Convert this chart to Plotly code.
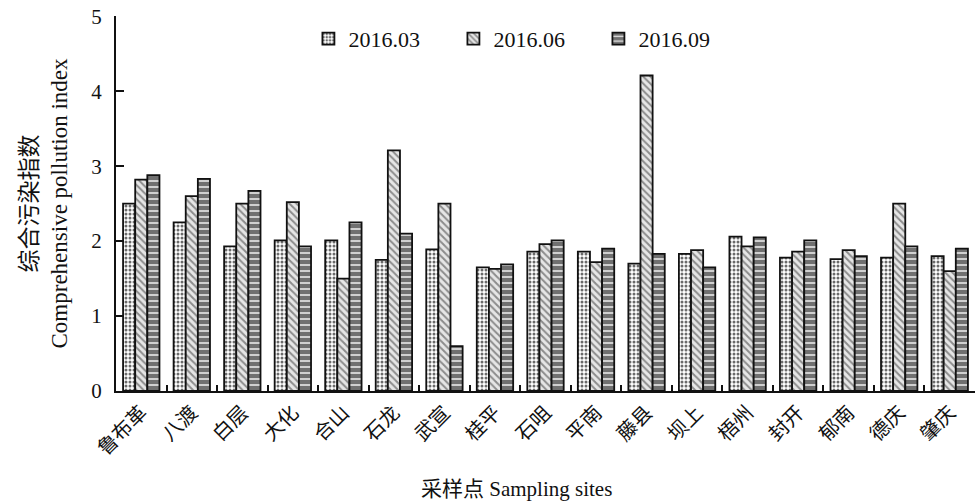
import plotly.graph_objects as go

sites = ["鲁布革", "八渡", "白层", "大化", "合山", "石龙", "武宣", "桂平", "石咀",
         "平南", "藤县", "坝上", "梧州", "封开", "郁南", "德庆", "肇庆"]
series_names = ["2016.03", "2016.06", "2016.09"]
v_2016_03 = [2.50, 2.25, 1.93, 2.01, 2.01, 1.75, 1.89, 1.65, 1.86, 1.86, 1.70, 1.83, 2.06, 1.78, 1.76, 1.78, 1.80]
v_2016_06 = [2.82, 2.60, 2.50, 2.52, 1.50, 3.21, 2.50, 1.63, 1.96, 1.72, 4.21, 1.88, 1.93, 1.86, 1.88, 2.50, 1.60]
v_2016_09 = [2.88, 2.83, 2.67, 1.93, 2.25, 2.10, 0.60, 1.69, 2.01, 1.90, 1.83, 1.65, 2.05, 2.01, 1.80, 1.93, 1.90]
y_ticks = [0, 1, 2, 3, 4, 5]

FONT = "Liberation Serif, Noto Sans CJK SC, serif"

styles = [
    dict(shape=".", bgcolor="#ffffff", fgcolor="#6a6a6a", size=4, solidity=0.45),
    dict(shape="\\", bgcolor="#e6e6e6", fgcolor="#8c8c8c", size=5, solidity=0.4),
    dict(shape="-", bgcolor="#707070", fgcolor="#f0f0f0", size=6, solidity=0.25),
]

fig = go.Figure()
for name, vals, st in zip(series_names, [v_2016_03, v_2016_06, v_2016_09], styles):
    fig.add_trace(go.Bar(
        x=sites, y=vals, name=name,
        marker=dict(color=st["bgcolor"], line=dict(color="#111111", width=1.8),
                    pattern=dict(shape=st["shape"], bgcolor=st["bgcolor"], fgcolor=st["fgcolor"],
                                 size=st["size"], solidity=st["solidity"], fgopacity=1)),
    ))

fig.update_layout(
    width=980, height=501,
    margin=dict(l=116, r=5, t=13, b=110),
    paper_bgcolor="white", plot_bgcolor="white",
    barmode="group", bargap=0.28, bargroupgap=0,
    font=dict(family=FONT, size=20, color="#111111"),
    showlegend=True,
    legend=dict(orientation="h", x=0.224, y=0.995, xanchor="left", yanchor="top",
                entrywidth=100, font=dict(size=22), bgcolor="rgba(0,0,0,0)"),
    xaxis=dict(showline=True, linecolor="#111111", linewidth=2, ticks="inside",
               tickson="boundaries", ticklen=6, tickwidth=2, tickcolor="#111111",
               tickangle=-45, tickfont=dict(size=20), showgrid=False, range=[-0.5, 16.5]),
    yaxis=dict(showline=True, linecolor="#111111", linewidth=2, ticks="inside",
               ticklen=8, tickwidth=2, tickcolor="#111111", range=[0, 5.004],
               tickvals=y_ticks, tickfont=dict(size=21), showgrid=False, zeroline=False,
               ticklabelstandoff=8,
               title=dict(text="综合污染指数<br>Comprehensive pollution index",
                          font=dict(size=23), standoff=17)),
    annotations=[dict(text="采样点 Sampling sites", xref="paper", yref="paper",
                      x=0.4657, y=-0.262, xanchor="center", yanchor="middle",
                      showarrow=False, font=dict(size=21))],
)

fig.write_html("out.html", config={"displayModeBar": False},
               post_script="document.body.style.margin='0';document.body.style.overflow='hidden';")
